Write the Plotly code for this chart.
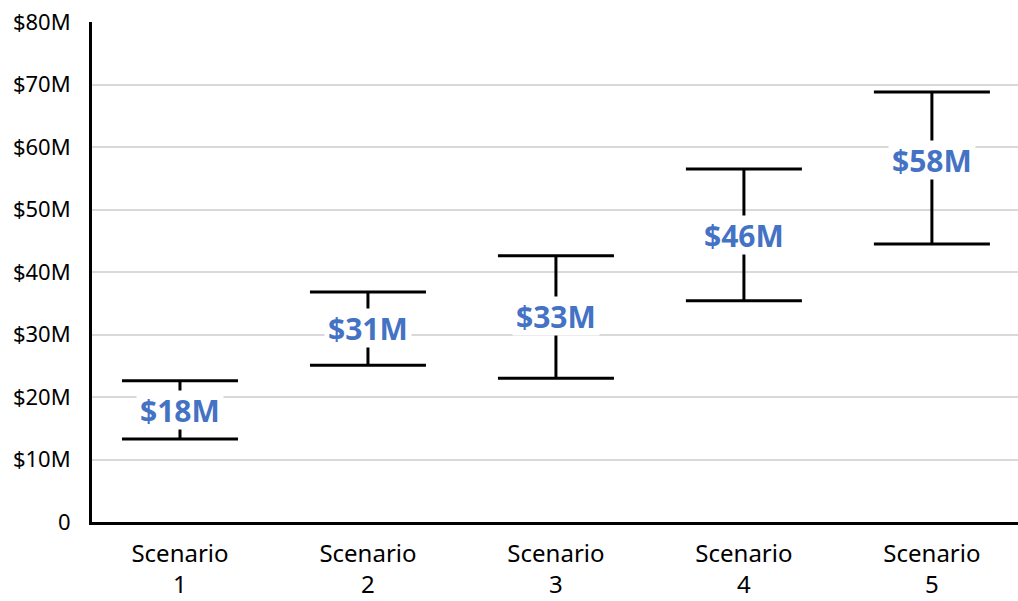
import plotly.graph_objects as go

# values in $M
scenarios = ["Scenario<br>1", "Scenario<br>2", "Scenario<br>3", "Scenario<br>4", "Scenario<br>5"]
mid = [18, 31, 33, 46, 58]
low = [13.3, 25.1, 23.0, 35.4, 44.5]
high = [22.6, 36.8, 42.6, 56.5, 68.8]

tick_vals = [0, 10, 20, 30, 40, 50, 60, 70, 80]
tick_text = ["0", "$10M", "$20M", "$30M", "$40M", "$50M", "$60M", "$70M", "$80M"]

fig = go.Figure()

fig.add_trace(go.Scatter(
    x=scenarios,
    y=mid,
    mode="markers",
    marker=dict(size=1, color="rgba(0,0,0,0)"),
    error_y=dict(
        type="data",
        symmetric=False,
        array=[h - m for h, m in zip(high, mid)],
        arrayminus=[m - l for m, l in zip(mid, low)],
        color="black",
        thickness=3,
        width=58,
    ),
    hoverinfo="skip",
    showlegend=False,
))

# value labels with white box over the stems / gridlines
for s, m in zip(scenarios, mid):
    fig.add_annotation(
        x=s, y=m, text=f"<b>${m}M</b>", showarrow=False,
        font=dict(family="Open Sans, sans-serif", size=30, color="#4472C4"),
        bgcolor="white", borderpad=3, height=32,
    )

fig.update_layout(
    width=1018,
    height=601,
    paper_bgcolor="white",
    plot_bgcolor="white",
    margin=dict(l=92, r=0, t=22, b=79),
    font=dict(family="Noto Sans, sans-serif", size=22, color="black"),
    showlegend=False,
)

fig.update_xaxes(
    type="category",
    range=[-0.468, 4.458],
    showline=True, linecolor="black", linewidth=3,
    showgrid=False, ticks="",
    tickfont=dict(size=24),
    ticklabelstandoff=8,
)

fig.update_yaxes(
    range=[0, 80],
    tickvals=tick_vals,
    ticktext=tick_text,
    showline=True, linecolor="black", linewidth=3,
    showgrid=True, gridcolor="#d9d9d9", gridwidth=1.5,
    zeroline=False, ticks="",
    tickfont=dict(size=22),
    ticklabelstandoff=14,
)

# drop the default 8px body margin so the figure fills the window
fig.write_html(
    "out.html",
    config={"displayModeBar": False},
    post_script="document.body.style.margin='0';",
)
